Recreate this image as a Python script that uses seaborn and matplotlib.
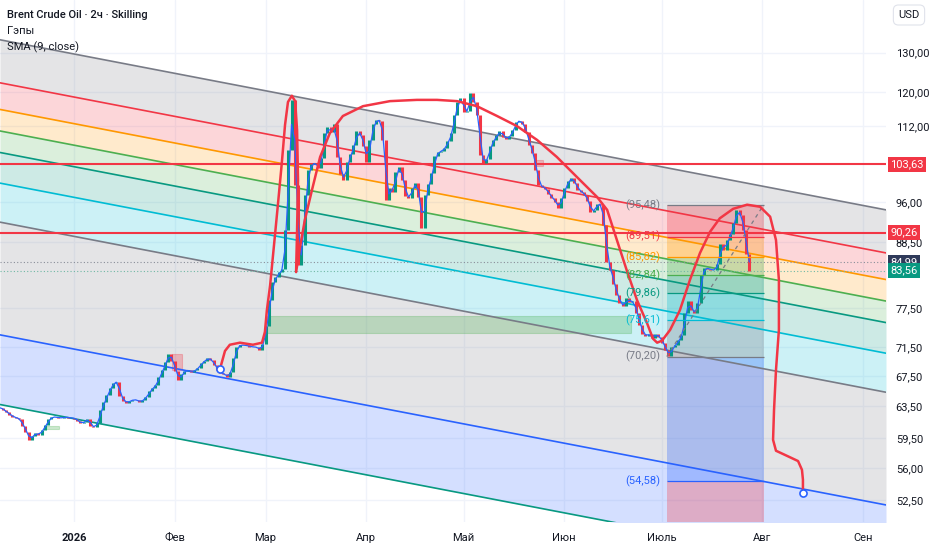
import numpy as np
import pandas as pd
import matplotlib
matplotlib.use("Agg")
import matplotlib.pyplot as plt
import matplotlib.dates as mdates
from matplotlib import ticker, transforms
from matplotlib.patches import Rectangle
import seaborn as sns

# Закрытия по дням (Brent, 2ч)
first_day = "2025-12-09"
closes = [
    63.3, 63.0, 62.7, 62.4, 62.1, 62.0, 61.8, 61.0, 60.3, 59.3,
    59.8, 60.1, 59.9, 60.5, 61.1, 61.8, 62.1, 62.1, 62.0, 62.0,
    62.1, 62.0, 62.0, 61.9, 61.6, 61.3, 61.5, 61.9, 61.0, 60.8,
    61.4, 63.0, 64.0, 65.0, 65.9, 66.6, 66.7, 64.8, 64.2, 63.9,
    64.2, 64.3, 64.3, 64.0, 64.3, 64.7, 65.4, 65.9, 66.3, 67.4,
    68.3, 69.4, 70.6, 69.6, 68.2, 66.9, 67.8, 68.2, 68.3, 68.0,
    68.3, 68.6, 69.3, 69.6, 70.0, 69.7, 69.0, 68.3, 67.9, 67.7,
    67.4, 68.0, 70.0, 71.6, 71.9, 71.8, 71.8, 71.6, 71.6, 71.5,
    71.2, 72.0, 74.7, 78.7, 81.6, 82.5, 83.3, 83.9, 90.7, 106.7,
    118.1, 99.4, 84.5, 88.0, 97.4, 102.5, 103.7, 103.9, 102.9, 105.0,
    110.4, 111.7, 110.6, 112.5, 105.2, 101.6, 100.4, 104.2, 105.8, 107.8,
    110.9, 110.0, 107.6, 104.2, 108.9, 112.5, 113.4, 113.2, 108.9, 96.4,
    98.8, 98.0, 102.1, 103.1, 100.4, 97.2, 96.8, 98.8, 99.8, 97.0,
    91.1, 97.4, 99.6, 101.8, 105.4, 106.3, 106.5, 107.2, 108.7, 110.4,
    114.6, 117.6, 118.5, 115.3, 115.5, 119.8, 117.6, 114.6, 105.6, 103.9,
    104.8, 107.6, 108.9, 110.0, 110.9, 109.6, 109.1, 109.8, 111.1, 113.0,
    113.2, 112.5, 110.6, 107.8, 106.1, 102.5, 99.4, 99.0, 98.6, 97.6,
    96.8, 96.0, 94.9, 96.8, 98.8, 100.2, 100.8, 99.8, 98.4, 98.0,
    97.4, 96.2, 94.1, 94.5, 95.7, 95.5, 91.7, 85.0, 83.6, 81.3,
    79.5, 78.2, 77.7, 79.0, 78.4, 78.5, 76.6, 74.9, 73.5, 73.2,
    73.5, 72.9, 73.5, 73.0, 72.2, 71.2, 70.3, 71.5, 71.9, 72.6,
    73.4, 76.6, 78.5, 77.1, 76.6, 78.2, 82.8, 84.0, 83.9, 83.7,
    83.6, 84.7, 88.2, 87.1, 88.9, 90.0, 92.1, 94.5, 93.6, 90.7,
    86.5, 83.56,
]

# кисть (красная линия): дни от 01.01.2026 и цена
base_day = pd.Timestamp("2026-01-01")
brush_day = [
    45.3, 46.5, 48.0, 51.1, 55.1, 57.9, 58.8, 59.4, 60.4, 61.6,
    62.8, 64.0, 65.0, 65.9, 67.1, 68.1, 68.7, 69.0, 68.7, 68.4,
    69.6, 71.1, 73.3, 75.8, 78.8, 82.8, 89.0, 97.3, 105.6, 111.8,
    118.0, 124.1, 130.3, 136.4, 142.6, 148.7, 154.9, 161.1, 164.2, 167.2,
    170.3, 173.4, 176.5, 178.3, 179.6, 181.1, 183.6, 186.6, 189.7, 192.8,
    195.9, 198.9, 203.0, 207.3, 211.3, 214.4, 216.2, 217.1, 217.1, 216.2,
    215.6, 215.3, 216.2, 219.6, 223.0, 224.2, 224.5, 224.5,
]
brush_price = [
    69.0, 71.0, 71.9, 72.2, 71.9, 72.2, 73.8, 77.1, 81.1, 88.0,
    95.5, 103.9, 112.3, 117.6, 119.1, 117.8, 111.1, 100.4, 90.7, 83.3,
    87.6, 92.6, 98.4, 105.2, 110.4, 114.3, 116.6, 117.8, 118.1, 118.1,
    117.8, 116.6, 114.3, 112.0, 108.9, 105.2, 101.0, 97.0, 94.5, 88.9,
    83.5, 78.7, 75.1, 72.8, 72.2, 72.5, 74.1, 77.1, 82.0, 86.6,
    90.4, 92.9, 94.7, 95.5, 95.1, 93.2, 88.9, 82.0, 74.1, 68.3,
    63.0, 59.3, 58.0, 57.4, 56.8, 55.8, 54.7, 53.5,
]
marker_day = [45.0, 224.5]
marker_price = [68.5, 53.2]

view_start = "2025-12-09 05:00"
view_end = "2026-09-08 02:00"
price_min, price_max = 50.2, 144.6

# фибо-канал
chan_top = [133.4, 94.5]
chan_depth = 0.691
chan_levels = [0, 0.236, 0.382, 0.5, 0.618, 0.786, 1, 1.618, 2]
chan_colors = ["#787B86", "#F23645", "#FF9800", "#4CAF50", "#089981",
               "#00BCD4", "#787B86", "#2962FF", "#089981"]

# коррекция по Фибоначчи
fib_time = ["2026-07-02 14:00", "2026-08-01 10:00"]
fib_high, fib_low = 95.48, 70.20
fib_levels = [0, 0.236, 0.382, 0.5, 0.618, 0.786, 1, 1.618, 2.618]
fib_colors = ["#787B86", "#F23645", "#FF9800", "#4CAF50", "#089981",
              "#00BCD4", "#787B86", "#2962FF", "#F23645"]

# гэпы
gap_start = ["2025-12-23", "2026-01-31 05:00", "2026-03-01 10:00", "2026-05-23"]
gap_end = ["2025-12-27 10:00", "2026-02-03 07:00", "2026-06-21 12:00", "2026-05-25 10:00"]
gap_low = [60.6, 68.3, 73.7, 103.3]
gap_high = [61.0, 70.6, 76.2, 104.5]
gap_color = ["#4CAF50", "#F23645", "#4CAF50", "#F23645"]

hline_price = [103.63, 90.26]
dot_price = [84.99, 83.56]
tag_price = [103.63, 90.26, 84.99, 83.56]
tag_color = ["#F23645", "#F23645", "#2F3A5A", "#089981"]

price_ticks = [52.5, 56, 59.5, 63.5, 67.5, 71.5, 77.5, 88.5, 96, 112, 120, 130]
month_labels = ["2026", "Фев", "Мар", "Апр", "Май", "Июн", "Июль", "Авг", "Сен"]

sns.set_theme(style="white")
plt.rcParams["font.family"] = ["Roboto", "DejaVu Sans"]
TXT = "#131722"

fig = plt.figure(figsize=(9.32, 5.5), dpi=100)
ax = fig.add_axes([0, 28 / 550, 886 / 932, 522 / 550])
ax.set_yscale("log")

# канал
t_view = pd.to_datetime([view_start, view_end])
top = np.array(chan_top)
for i, lvl in enumerate(chan_levels):
    line = top * chan_depth ** lvl
    ax.plot(t_view, line, color=chan_colors[i], lw=1.2, zorder=2)
    if i + 1 < len(chan_levels):
        nxt = top * chan_depth ** chan_levels[i + 1]
        ax.fill_between(t_view, line, nxt, color=chan_colors[i], alpha=0.2,
                        lw=0, zorder=1)

# гэпы
for s, e, lo, hi, c in zip(gap_start, gap_end, gap_low, gap_high, gap_color):
    x0 = mdates.date2num(pd.Timestamp(s))
    x1 = mdates.date2num(pd.Timestamp(e))
    ax.add_patch(Rectangle((x0, lo), x1 - x0, hi - lo, fc=c, alpha=0.28,
                           ec=c, lw=0.8, zorder=1.5))

# коробка фибо
fx = mdates.date2num(pd.to_datetime(fib_time))
span = fib_high - fib_low
fib_prices = [fib_high - l * span for l in fib_levels]
for i in range(len(fib_levels) - 1):
    hi, lo = fib_prices[i], fib_prices[i + 1]
    ax.add_patch(Rectangle((fx[0], lo), fx[1] - fx[0], hi - lo,
                           fc=fib_colors[i + 1], alpha=0.3, lw=0, zorder=1.6))
shift_left = ax.transData + transforms.ScaledTranslation(-5 / 72, 0, fig.dpi_scale_trans)
for p, c in zip(fib_prices[:-1], fib_colors[:-1]):
    ax.hlines(p, fx[0], fx[1], color=c, lw=0.9, zorder=3.6)
    ax.text(fx[0], p, f"({p:.2f})".replace(".", ","), transform=shift_left,
            ha="right", va="center", color=c, fontsize=8, zorder=6)
ax.plot(pd.to_datetime(fib_time), [fib_low, fib_high], ls=(0, (3, 3)),
        color="#787B86", lw=0.9, zorder=3.6)

# горизонтальные уровни
for p in hline_price:
    ax.axhline(p, color="#F23645", lw=1.5, zorder=2.2)
ax.axhline(dot_price[0], color="#8A8E99", lw=0.8, ls=(0, (1, 2)), zorder=2.2)
ax.axhline(dot_price[1], color="#6FB8A5", lw=0.8, ls=(0, (1, 2)), zorder=2.2)

# свечи
dates = pd.date_range(first_day, periods=len(closes), freq="D")
close_s = pd.Series(closes, index=dates)
open_s = close_s.shift(1).fillna(close_s.iloc[0])
up = close_s >= open_s
lo = np.minimum(open_s, close_s)
hi = np.maximum(open_s, close_s)
ax.vlines(dates[up], lo[up], hi[up], color="#089981", lw=2.2, zorder=3)
ax.vlines(dates[~up], lo[~up], hi[~up], color="#F23645", lw=2.2, zorder=3)

sma = close_s.rolling(2, min_periods=1).mean()
sns.lineplot(x=dates, y=sma.values, color="#2962FF", lw=0.9, ax=ax, zorder=3.5)

# кисть
brush_t = base_day + pd.to_timedelta(brush_day, unit="D")
ax.plot(brush_t, brush_price, color="#F23645", lw=1.8, solid_capstyle="round",
        solid_joinstyle="round", zorder=4)
marker_t = base_day + pd.to_timedelta(marker_day, unit="D")
ax.scatter(marker_t, marker_price, s=26, facecolor="white", edgecolor="#2962FF",
           lw=1.2, zorder=5)

# оси
ax.set_xlim(t_view[0], t_view[1])
ax.set_ylim(price_min, price_max)
ax.yaxis.tick_right()
ax.yaxis.set_major_locator(ticker.FixedLocator(price_ticks))
ax.yaxis.set_minor_locator(ticker.NullLocator())
ax.yaxis.set_major_formatter(ticker.FuncFormatter(lambda v, _: f"{v:.2f}".replace(".", ",")))
ax.tick_params(axis="y", length=0, pad=7, labelsize=8, labelcolor=TXT)
ax.set_xticks(pd.date_range("2026-01-01", periods=len(month_labels), freq="MS"))
ax.set_xticklabels(month_labels)
ax.tick_params(axis="x", length=0, pad=8, labelsize=8, labelcolor=TXT)
ax.get_xticklabels()[0].set_fontweight("bold")
ax.grid(True, color="#F0F3FA", lw=1)
ax.set_axisbelow(True)
for sp in ax.spines.values():
    sp.set_visible(False)
ax.set_xlabel("")
ax.set_ylabel("")

# метки цен справа
tag_trans = transforms.blended_transform_factory(ax.transAxes, ax.transData) + \
    transforms.ScaledTranslation(3 / 72, 0, fig.dpi_scale_trans)
for p, c in zip(tag_price, tag_color):
    ax.text(1.0, p, f"{p:.2f}".replace(".", ","), transform=tag_trans,
            ha="left", va="center", color="white", fontsize=8, clip_on=False,
            bbox=dict(boxstyle="square,pad=0.22", fc=c, ec="none"), zorder=10)

fig.text(909 / 932, 1 - 15 / 550, "USD", ha="center", va="center", fontsize=8,
         color=TXT, bbox=dict(boxstyle="round,pad=0.45", fc="white",
                              ec="#E0E3EB", lw=0.8))

fig.text(7 / 932, 1 - 15 / 550, "Brent Crude Oil · 2ч · Skilling", ha="left",
         va="center", fontsize=8, color=TXT, fontweight="medium")
fig.text(7 / 932, 1 - 31 / 550, "Гэпы", ha="left", va="center", fontsize=8, color=TXT)
fig.text(7 / 932, 1 - 47 / 550, "SMA (9, close)", ha="left", va="center",
         fontsize=8, color=TXT)

fig.savefig("out.png", dpi=100)
